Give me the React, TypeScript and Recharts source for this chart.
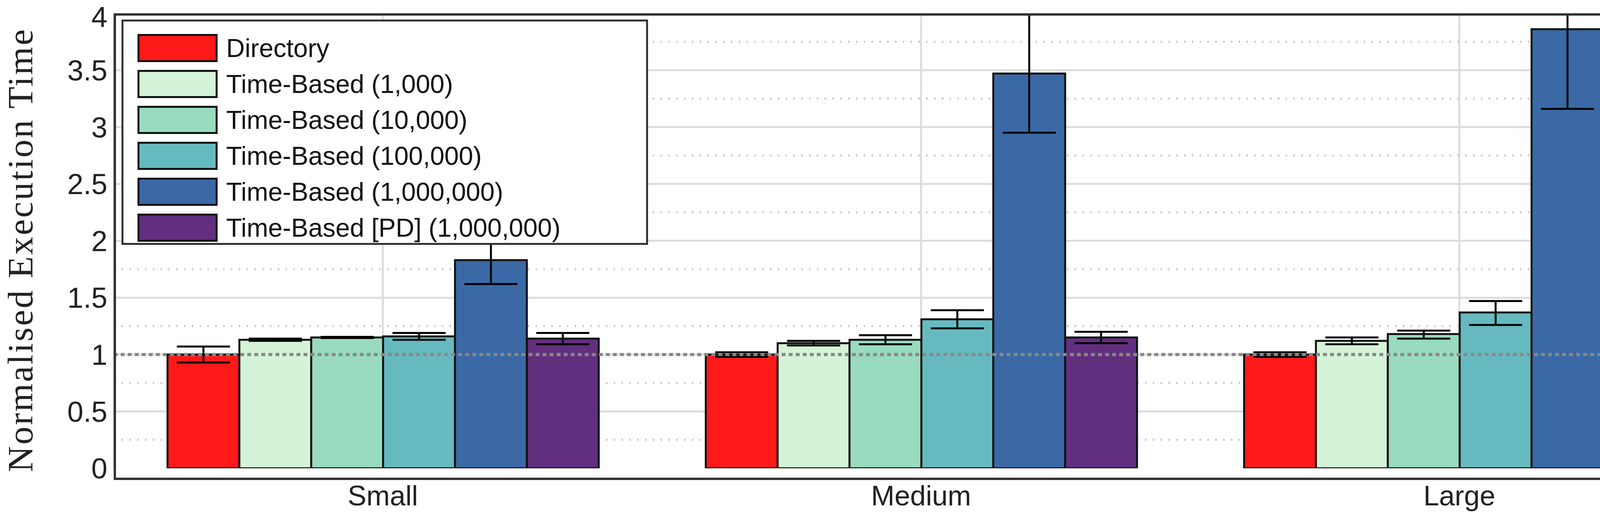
import React from "react";
import { Bar, BarChart, CartesianGrid, ErrorBar, ReferenceLine, XAxis, YAxis } from "recharts";

const categories = ["Small", "Medium", "Large"];
const seriesNames = [
  "Directory",
  "Time-Based (1,000)",
  "Time-Based (10,000)",
  "Time-Based (100,000)",
  "Time-Based (1,000,000)",
  "Time-Based [PD] (1,000,000)"
];
const seriesColors = ["#ff1a1a", "#d5f3d8", "#99dbbf", "#66babf", "#3a69a6", "#622f7e"];

// mean, low, high per category
const directory = [[1.0, 0.93, 1.07], [1.0, 0.98, 1.02], [1.0, 0.98, 1.02]];
const tb1k = [[1.13, 1.12, 1.14], [1.1, 1.08, 1.12], [1.12, 1.09, 1.15]];
const tb10k = [[1.15, 1.145, 1.155], [1.13, 1.09, 1.17], [1.18, 1.14, 1.21]];
const tb100k = [[1.16, 1.13, 1.19], [1.31, 1.23, 1.39], [1.37, 1.26, 1.47]];
const tb1m = [[1.83, 1.62, 2.03], [3.47, 2.95, 3.99], [3.86, 3.16, 4.6]];
const tbpd = [[1.14, 1.09, 1.19], [1.15, 1.1, 1.2], [1.17, 1.13, 1.21]];
const allSeries = [directory, tb1k, tb10k, tb100k, tb1m, tbpd];

const yTicks = [0, 0.5, 1, 1.5, 2, 2.5, 3, 3.5, 4];
const solidGrid = [0.5, 1, 1.5, 2, 2.5, 3, 3.5];
const dottedGrid = [0.25, 0.75, 1.25, 1.75, 2.25, 2.75, 3.25, 3.75];

const data = categories.map((name, i) => {
  const row: any = { name };
  allSeries.forEach((s, k) => {
    row["s" + k] = s[i][0];
    row["e" + k] = [s[i][0] - s[i][1], s[i][2] - s[i][0]];
  });
  return row;
});

const W = 4431;
const H = 1357;
const M = { top: 34, right: 6, bottom: 128, left: 0 };
const YW = 291;
const sans = "Liberation Sans Narrow, Liberation Sans, sans-serif";

export default function App() {
  return (
    <div style={{ position: "fixed", left: 0, top: 0, width: W, height: H, background: "#fff", overflow: "hidden" }}>
      <BarChart width={W} height={H} data={data} margin={M} barCategoryGap="10%" barGap={0}>
        <CartesianGrid horizontalValues={solidGrid} stroke="#dcdcdc" strokeWidth={5} />
        <CartesianGrid horizontalValues={dottedGrid} vertical={false} stroke="#c8c8c8" strokeWidth={5} strokeDasharray="4 16" />
        <XAxis
          dataKey="name"
          tickLine={false}
          axisLine={false}
          tick={{ fontSize: 72, fill: "#222", fontFamily: sans }}
          dy={36}
        />
        <YAxis
          width={YW}
          domain={[0, 4]}
          ticks={yTicks}
          allowDataOverflow
          tickLine={false}
          axisLine={false}
          tick={{ fontSize: 74, fill: "#222", fontFamily: sans }}
          dx={-8}
        />
        {allSeries.map((_, k) => (
          <Bar key={k} dataKey={"s" + k} fill={seriesColors[k]} stroke="#111" strokeWidth={5} isAnimationActive={false}>
            <ErrorBar dataKey={"e" + k} width={68} stroke="#000" strokeWidth={5} direction="y" />
          </Bar>
        ))}
        <ReferenceLine y={1} stroke="#888" strokeWidth={8} strokeDasharray="10 8" />
      </BarChart>
      <div style={{ position: "absolute", left: YW, top: 0, width: W - YW, height: M.top, background: "#fff" }} />
      <div
        style={{
          position: "absolute",
          left: YW,
          top: M.top,
          width: W - YW - M.right,
          height: H - M.top - M.bottom,
          border: "6px solid #333",
          boxSizing: "border-box",
          pointerEvents: "none"
        }}
      />
      <div
        style={{
          position: "absolute",
          left: 52,
          top: 640,
          transform: "translate(-50%, -50%) rotate(-90deg)",
          whiteSpace: "nowrap",
          fontFamily: "Liberation Serif, DejaVu Serif, serif",
          fontSize: 92,
          letterSpacing: 4,
          color: "#222"
        }}
      >
        Normalised Execution Time
      </div>
      <div
        style={{
          position: "absolute",
          left: 311,
          top: 50,
          width: 1348,
          height: 577,
          border: "5px solid #333",
          boxSizing: "border-box",
          background: "#fff",
          padding: "22px 0 0 36px",
          fontFamily: sans,
          fontSize: 66,
          color: "#111"
        }}
      >
        {seriesNames.map((n, k) => (
          <div key={k} style={{ display: "flex", alignItems: "center", height: 92 }}>
            <div
              style={{
                width: 205,
                height: 72,
                background: seriesColors[k],
                border: "5px solid #111",
                boxSizing: "border-box",
                marginRight: 22
              }}
            />
            <span>{n}</span>
          </div>
        ))}
      </div>
    </div>
  );
}
